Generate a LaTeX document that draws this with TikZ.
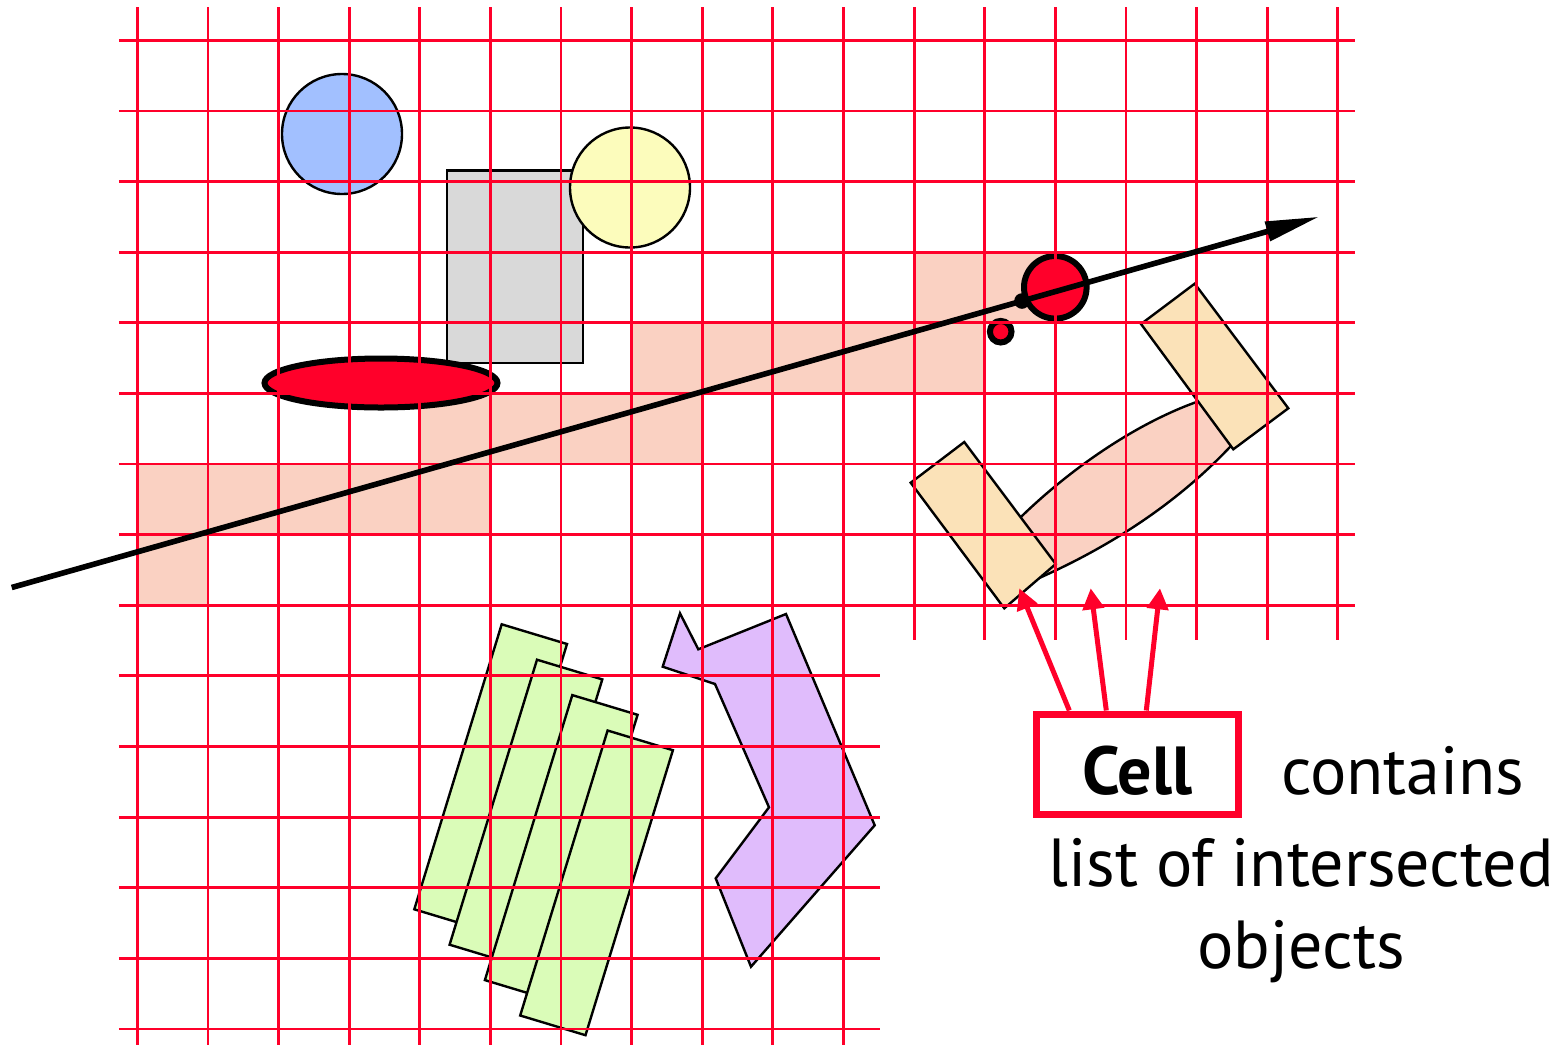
\documentclass[tikz,border=0pt]{standalone}
\usepackage{fontspec}
\newfontfamily\lblfont{PT Sans}
\usepackage{tikz}
\usetikzlibrary{arrows.meta}
\definecolor{gridred}{RGB}{255,0,42}
\definecolor{hitpink}{RGB}{250,209,194}
\definecolor{skyblue}{RGB}{162,192,255}
\definecolor{lemon}{RGB}{252,252,188}
\definecolor{boxgray}{RGB}{217,217,217}
\definecolor{lime}{RGB}{218,252,184}
\definecolor{lilac}{RGB}{224,188,252}
\definecolor{peach}{RGB}{251,226,184}
\tikzset{
  gridline/.style={draw=gridred, line width=2.8pt},
  hitcell/.style={fill=hitpink},
  thinobj/.style={draw=black, line width=2.4pt},
  thickobj/.style={draw=black, line width=6pt, fill=gridred},
  ray/.style={draw=black, line width=5.6pt, -{Triangle[length=54pt,width=19pt]}},
  cellbox/.style={draw=gridred, line width=7pt, minimum width=202pt, minimum height=100pt,
    text height=62pt, inner sep=0pt, font=\lblfont\bfseries\fontsize{68}{80}\selectfont},
  lbl/.style={font=\lblfont\fontsize{68}{80}\selectfont, inner sep=0pt},
  pointer/.style={draw=gridred, line width=5pt, -{Triangle[length=21pt,width=21pt]}}
}

\begin{document}
\begin{tikzpicture}[x=1pt, y=-1pt]
  \useasboundingbox (0,0) rectangle (1553,1045);
  % cells hit by the ray
  \begin{scope}[shift={(137.3,40.3)}, x=70.62pt, y=-70.62pt]
    \foreach \ca/\cb/\r in {0/1/7, 0/5/6, 4/8/5, 7/12/4, 11/13/3}
      \fill[hitcell] (\ca,\r) rectangle (\cb,\r+1);
  \end{scope}
  % objects
  \filldraw[thinobj, fill=skyblue] (342,134) circle (60);
  \filldraw[thinobj, fill=boxgray] (446.7,170.3) rectangle (583,363);
  \filldraw[thinobj, fill=lemon] (630,187.5) circle (60);
  \filldraw[thickobj] (381,383) ellipse (116.5 and 24.5);
  \foreach \k in {0,...,3}
    \filldraw[thinobj, fill=lime, shift={(35.3*\k,35.4*\k)}]
      (414.3,909.3) -- (501.7,624.3) -- (567,644) -- (479.6,929) -- cycle;
  \filldraw[thinobj, fill=lilac] (680,613.3) -- (698.3,649.3) -- (786,614) -- (874.7,825.3)
    -- (751,966.7) -- (715.7,878.3) -- (769,807.3) -- (715,684) -- (662.7,666.7) -- cycle;
  \filldraw[thinobj, fill=hitpink] (1005,533) .. controls (1065,470) and (1145,416) .. (1215,396)
    -- (1240,436) .. controls (1178,506) and (1100,552) .. (1030,582) -- cycle;
  \filldraw[thinobj, fill=peach] (910.7,482.7) -- (964.3,442) -- (1055.7,564) -- (1004.3,608.3) -- cycle;
  \filldraw[thinobj, fill=peach] (1141,324) -- (1194.7,283.7) -- (1288.3,408.3) -- (1233.3,449.3) -- cycle;
  \filldraw[thickobj] (1055.3,287.3) circle (31.3);
  \filldraw[thickobj] (1000.7,331.7) circle (10.8);
  % grid
  \begin{scope}[shift={(137.3,40.3)}, x=70.62pt, y=-70.62pt, gridline]
    \foreach \i in {0,...,10} \draw (\i,-0.47) -- (\i,14.23);
    \foreach \i in {11,...,17} \draw (\i,-0.47) -- (\i,8.49);
    \foreach \j in {0,...,8} \draw (-0.26,\j) -- (17.24,\j);
    \foreach \j in {9,...,14} \draw (-0.26,\j) -- (10.52,\j);
  \end{scope}
  % ray
  \coordinate (rayStart) at (11.7,587.5);
  \coordinate (rayEnd) at (1319.3,216.7);
  \coordinate (hit) at (1022,301);
  \draw[ray] (rayStart) -- (rayEnd);
  \fill (hit) circle (7.8);
  % label
  \node[cellbox] (cell) at (1137.3,764) {Cell};
  \node[lbl, anchor=base west] (contains) at ([xshift=39pt]cell.base east) {contains};
  \node[lbl, anchor=base] (list) at (1301,886) {list of intersected};
  \node[lbl, anchor=base] (objs) at (1301,968) {objects};
  \coordinate (tipA) at (1019.3,588.3);
  \coordinate (tipB) at (1090.7,588.3);
  \coordinate (tipC) at (1160,588.3);
  \draw[pointer] ([xshift=-68pt]cell.north) -- (tipA);
  \draw[pointer] ([xshift=-31pt]cell.north) -- (tipB);
  \draw[pointer] ([xshift=9pt]cell.north) -- (tipC);
\end{tikzpicture}
\end{document}
